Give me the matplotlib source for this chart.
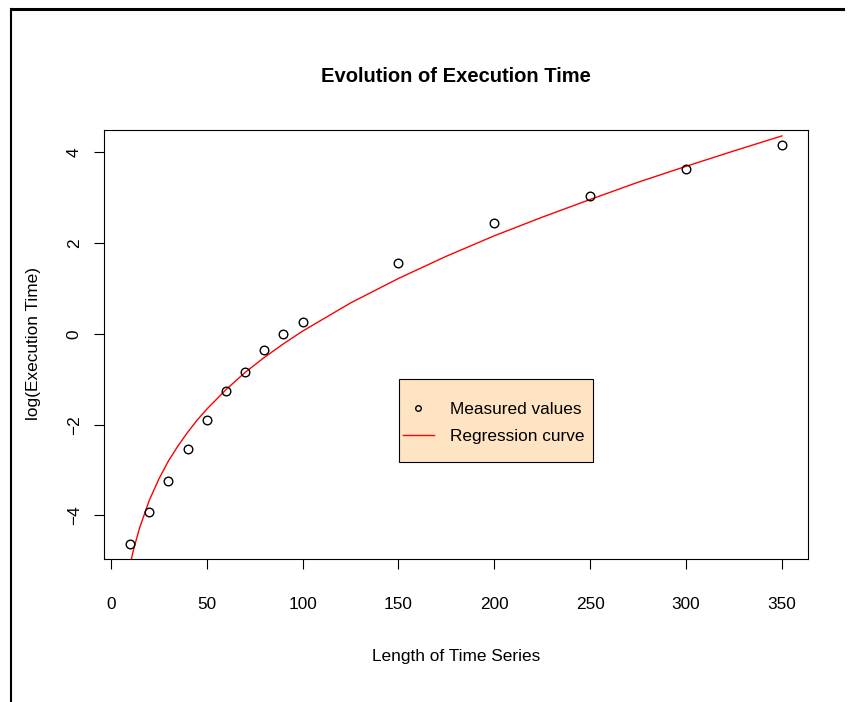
import matplotlib
matplotlib.use("Agg")
import matplotlib.pyplot as plt
from matplotlib.lines import Line2D
from matplotlib.patches import Rectangle

plt.rcParams['font.family'] = ['Liberation Sans', 'DejaVu Sans']

# measured points
lengths = [10, 20, 30, 40, 50, 60, 70, 80, 90, 100, 150, 200, 250, 300, 350]
log_times = [-4.62, -3.93, -3.24, -2.53, -1.90, -1.25, -0.84, -0.35, -0.01, 0.27,
             1.56, 2.44, 3.03, 3.64, 4.15]

# regression curve
curve_x = [10, 11, 12, 15, 20, 25, 30, 35, 40, 45, 50, 60, 70, 80, 90, 100,
           125, 150, 175, 200, 225, 250, 275, 300, 325, 350]
curve_y = [-5.10, -4.90, -4.72, -4.27, -3.67, -3.20, -2.80, -2.47, -2.17, -1.90,
           -1.66, -1.23, -0.85, -0.52, -0.22, 0.06, 0.68, 1.22, 1.71, 2.16,
           2.57, 2.96, 3.34, 3.69, 4.03, 4.36]

x_ticks = [0, 50, 100, 150, 200, 250, 300, 350]
y_ticks = [-4, -2, 0, 2, 4]

W, H = 848, 702
fig = plt.figure(figsize=(W / 100, H / 100), dpi=100)
ax = fig.add_axes([104 / W, 1 - 559 / H, 704 / W, 429 / H])

ax.plot(curve_x, curve_y, color="red", lw=1.0, zorder=2)
ax.plot(lengths, log_times, ls="none", marker="o", ms=6.2, mfc="none",
        mec="black", mew=1.0, zorder=3)

ax.set_xlim(-3.6, 363.6)
ax.set_ylim(-4.96, 4.49)
ax.set_xticks(x_ticks)
ax.set_yticks(y_ticks)
for s in ax.spines.values():
    s.set_linewidth(0.8)
ax.tick_params(direction="out", length=7.2, width=0.8, labelsize=12.4, colors="black")
ax.tick_params(axis="x", pad=20)
ax.tick_params(axis="y", pad=8.8, labelrotation=90)
for lab in ax.get_yticklabels():
    lab.set_verticalalignment("center")

# legend
ax.add_patch(Rectangle((0.419, 0.2261), 0.2756, 0.1935, transform=ax.transAxes,
                       facecolor="#FFE4C4", edgecolor="black", lw=0.8, zorder=4))
handles = [Line2D([], [], ls="none", marker="o", ms=4, mfc="none", mec="black", mew=1.0),
           Line2D([], [], color="red", lw=1.0)]
leg = ax.legend(handles, ["Measured values", "Regression curve"], loc="center left",
                bbox_to_anchor=(0.4247, 0.317), frameon=False, fontsize=12.4,
                borderpad=0, borderaxespad=0, handlelength=1.79, handletextpad=0.92,
                labelspacing=0.73)
leg.set_zorder(5)

fig.text(456 / W, 1 - 76 / H, "Evolution of Execution Time", ha="center", va="center",
         fontsize=14.5, fontweight="bold")
fig.text(456 / W, 1 - 656 / H, "Length of Time Series", ha="center", va="center",
         fontsize=12.4)
fig.text(34 / W, 1 - 344 / H, "log(Execution Time)", ha="center", va="center",
         rotation=90, fontsize=12.4)

# frame around the screenshot
fig.add_artist(Line2D([11 / W, 843 / W], [1 - 9 / H, 1 - 9 / H], color="black", lw=2.2))
fig.add_artist(Line2D([11 / W, 11 / W], [0, 1 - 9 / H], color="black", lw=1.5))

fig.savefig("out.png", dpi=100)
